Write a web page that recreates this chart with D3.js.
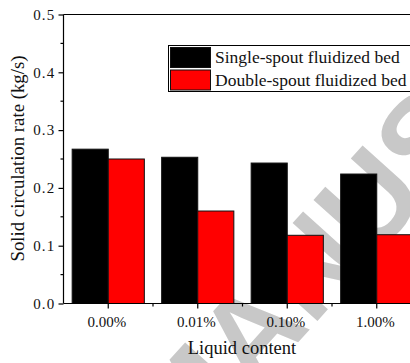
<!DOCTYPE html>
<html>
<head>
<meta charset="utf-8">
<script src="https://d3js.org/d3.v7.min.js"></script>
<style>
  html, body { margin: 0; padding: 0; background: #fff; }
  svg { display: block; }
</style>
</head>
<body>
<svg id="chart" width="410" height="363"></svg>
<script>
// Liquid content categories and solid circulation rates (kg/s)
const categories = ["0.00%", "0.01%", "0.10%", "1.00%"];
const seriesNames = ["Single-spout fluidized bed", "Double-spout fluidized bed"];
const singleSpout = [0.267, 0.253, 0.243, 0.224];
const doubleSpout = [0.250, 0.160, 0.118, 0.119];
const seriesColors = ["#000000", "#ff0000"];
const yTicks = [0.0, 0.1, 0.2, 0.3, 0.4, 0.5];
const yMinorTicks = [0.05, 0.15, 0.25, 0.35, 0.45];

const svg = d3.select("#chart");
const W = 410, H = 363;
const plotLeft = 63.5, plotRight = 421.5, plotTop = 14.5, plotBottom = 303.5;
const serif = "'Liberation Serif', 'Times New Roman', serif";

// Faint diagonal watermark behind the plot
svg.append("text")
  .attr("transform", "translate(185,468) rotate(-48)")
  .attr("font-family", "'Liberation Sans', Arial, sans-serif")
  .attr("font-weight", "bold")
  .attr("font-size", 122)
  .attr("fill", "#c8c8c8")
  .text("MANUSCRIPT");

const x = d3.scaleBand().domain(categories).range([plotLeft, plotRight]).padding(0);
const xSub = d3.scaleBand().domain(seriesNames).range([0, x.bandwidth()])
  .paddingInner(0).paddingOuter(0.24);
const y = d3.scaleLinear().domain([0, 0.5]).range([plotBottom, plotTop]);

const rows = categories.map((c, i) => ({ cat: c, values: [singleSpout[i], doubleSpout[i]] }));

// Bars
const groups = svg.append("g").selectAll("g").data(rows).join("g")
  .attr("transform", d => `translate(${x(d.cat)},0)`);
groups.selectAll("rect")
  .data(d => d.values.map((v, k) => ({ name: seriesNames[k], v, k })))
  .join("rect")
  .attr("x", d => xSub(d.name))
  .attr("width", xSub.bandwidth())
  .attr("y", d => y(d.v))
  .attr("height", d => y(0) - y(d.v))
  .attr("fill", d => seriesColors[d.k])
  .attr("stroke", "#111")
  .attr("stroke-width", 1);

// Top frame line
svg.append("line")
  .attr("x1", plotLeft).attr("x2", W + 20)
  .attr("y1", plotTop).attr("y2", plotTop)
  .attr("stroke", "#000").attr("stroke-width", 1.2);

// Y axis
const yAxis = svg.append("g").attr("transform", `translate(${plotLeft},0)`)
  .call(d3.axisLeft(y).tickValues(yTicks).tickFormat(d3.format(".1f")).tickSize(5).tickPadding(3));
yAxis.select(".domain").attr("stroke-width", 1.2).attr("d", `M0,${plotBottom}V${plotTop}`);
yAxis.selectAll(".tick line").attr("stroke-width", 1.2);
yAxis.selectAll("text").attr("font-family", serif).attr("font-size", 15)
  .attr("letter-spacing", 1.2).attr("fill", "#111");
svg.append("g").selectAll("line").data(yMinorTicks).join("line")
  .attr("x1", plotLeft - 3).attr("x2", plotLeft)
  .attr("y1", d => y(d)).attr("y2", d => y(d))
  .attr("stroke", "#000").attr("stroke-width", 1.2);

// X axis
const xAxis = svg.append("g").attr("transform", `translate(0,${plotBottom})`)
  .call(d3.axisBottom(x).tickSize(5).tickPadding(7));
xAxis.select(".domain").attr("stroke-width", 1.2).attr("d", `M${plotLeft},0H${W + 20}`);
xAxis.selectAll(".tick line").attr("stroke-width", 1.2);
xAxis.selectAll("text").attr("font-family", serif).attr("font-size", 15)
  .attr("dy", null).attr("y", 23).attr("dx", -1.5).attr("fill", "#111");
svg.append("g").selectAll("line").data(categories.slice(1)).join("line")
  .attr("x1", d => x(d)).attr("x2", d => x(d))
  .attr("y1", plotBottom).attr("y2", plotBottom + 3)
  .attr("stroke", "#000").attr("stroke-width", 1.2);

// Axis titles
svg.append("text")
  .attr("x", 242).attr("y", 354)
  .attr("text-anchor", "middle")
  .attr("font-family", serif).attr("font-size", 18.5).attr("fill", "#111")
  .text("Liquid content");
svg.append("text")
  .attr("transform", "translate(23.5,158.5) rotate(-90)")
  .attr("text-anchor", "middle")
  .attr("font-family", serif).attr("font-size", 18.8).attr("fill", "#111")
  .text("Solid circulation rate (kg/s)");

// Legend
const legend = svg.append("g");
legend.append("rect")
  .attr("x", 168.5).attr("y", 45.5).attr("width", 260).attr("height", 46)
  .attr("fill", "#fff").attr("stroke", "#000").attr("stroke-width", 1);
seriesNames.forEach((name, k) => {
  legend.append("rect")
    .attr("x", 170.5).attr("y", 47.5 + k * 22.5).attr("width", 40).attr("height", 20)
    .attr("fill", seriesColors[k]).attr("stroke", "#111").attr("stroke-width", 1);
  legend.append("text")
    .attr("x", 215).attr("y", 63.3 + k * 22.4)
    .attr("font-family", serif).attr("font-size", 17.5).attr("fill", "#111")
    .text(name);
});
</script>
</body>
</html>
